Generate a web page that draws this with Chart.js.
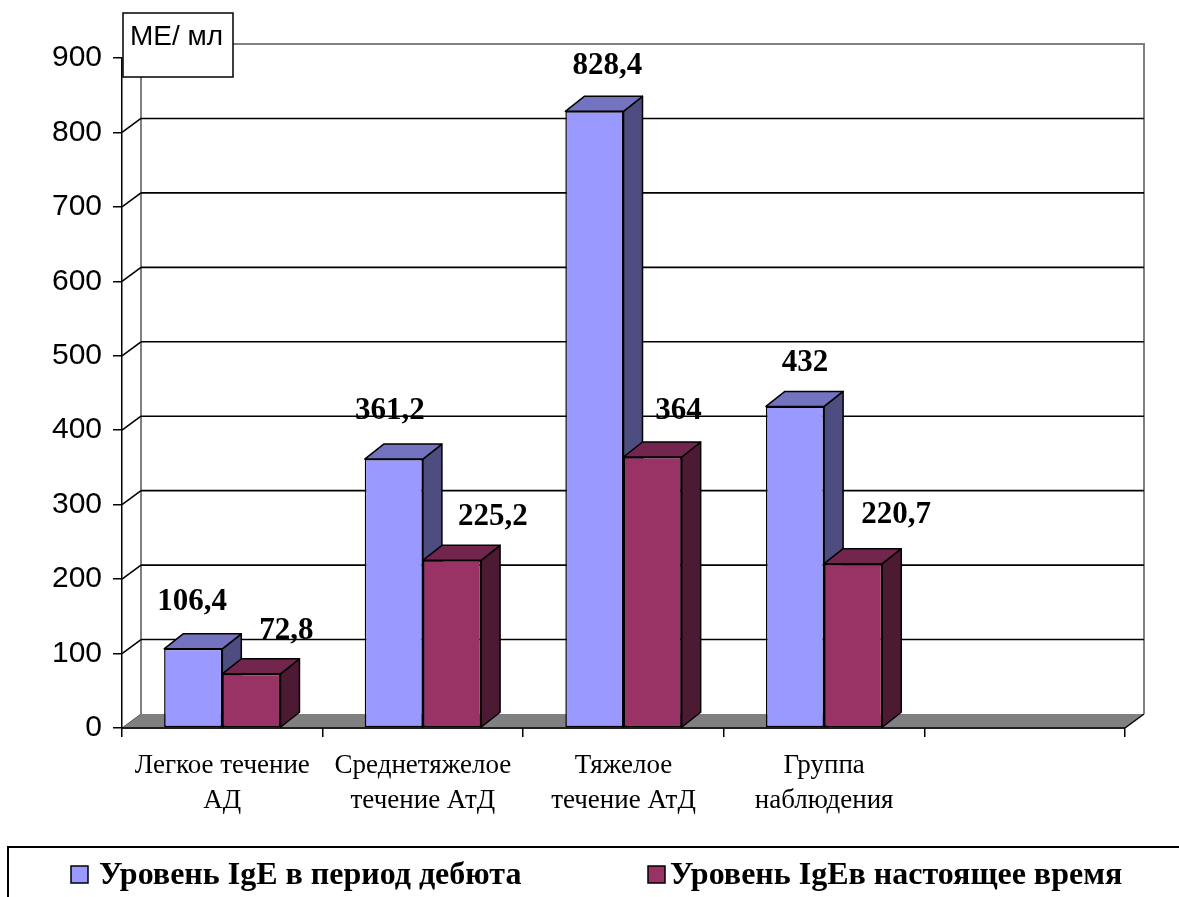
<!DOCTYPE html>
<html>
<head>
<meta charset="utf-8">
<script src="https://cdn.jsdelivr.net/npm/chart.js@4.4.1/dist/chart.umd.min.js"></script>
<style>
  html, body { margin: 0; padding: 0; background: #fff; }
  #wrap { width: 1179px; height: 897px; position: relative; }
</style>
</head>
<body>
<div id="wrap"><canvas id="c" width="1179" height="897"></canvas></div>
<script>
// ---- data ----
const categories = [
  ['Легкое течение', 'АД'],
  ['Среднетяжелое', 'течение АтД'],
  ['Тяжелое', 'течение АтД'],
  ['Группа', 'наблюдения'],
  ''
];
const debutValues   = [106.4, 361.2, 828.4, 432, null];
const currentValues = [72.8, 225.2, 364, 220.7, null];
const seriesNames   = ['Уровень IgE в период дебюта', 'Уровень IgEв настоящее время'];
const yTickValues   = [0, 100, 200, 300, 400, 500, 600, 700, 800, 900];
const unitLabel     = 'МЕ/ мл';

// ---- look ----
const FRONT = ['#9999FF', '#993366'];
const TOP   = ['#7373C0', '#73264D'];
const SIDE  = ['#4D4D80', '#4D1A33'];
const WALL  = { dx: 19, dy: -14 };   // depth of the back wall
const BOX   = { dx: 19, dy: -15 };   // depth of each column
// value label placement relative to the column's front face (x shift, baseline shift)
const labelShift = [
  [[-1, -39], [-4, -40], [13, -37], [10, -35]],
  [[35, -35], [41, -35], [26, -38], [43, -41]]
];

const fmt = v => String(v).replace('.', ',');

const scene3d = {
  id: 'scene3d',
  beforeDatasetsDraw(chart) {
    const { ctx, chartArea: a, scales: { y } } = chart;
    const dx = WALL.dx, dy = WALL.dy;
    ctx.save();
    // floor
    ctx.fillStyle = '#808080';
    ctx.beginPath();
    ctx.moveTo(a.left, a.bottom);
    ctx.lineTo(a.right, a.bottom);
    ctx.lineTo(a.right + dx, a.bottom + dy);
    ctx.lineTo(a.left + dx, a.bottom + dy);
    ctx.closePath();
    ctx.fill();
    ctx.strokeStyle = '#000';
    ctx.lineWidth = 1.5;
    ctx.beginPath();
    ctx.moveTo(a.right, a.bottom);
    ctx.lineTo(a.right + dx, a.bottom + dy);
    ctx.stroke();
    ctx.strokeStyle = '#555';
    ctx.lineWidth = 1;
    ctx.beginPath();
    ctx.moveTo(a.left, a.bottom);
    ctx.lineTo(a.left + dx, a.bottom + dy);
    ctx.stroke();

    // back wall frame
    ctx.strokeStyle = '#808080';
    ctx.lineWidth = 2;
    ctx.beginPath();
    ctx.moveTo(a.left + dx, a.bottom + dy);
    ctx.lineTo(a.left + dx, a.top + dy);
    ctx.lineTo(a.right + dx, a.top + dy);
    ctx.lineTo(a.right + dx, a.bottom + dy);
    ctx.stroke();

    // gridlines on the back wall and their traces on the side wall
    ctx.strokeStyle = '#000';
    ctx.lineWidth = 1.6;
    yTickValues.forEach(v => {
      if (v === yTickValues[0] || v === yTickValues[yTickValues.length - 1]) return;
      const py = y.getPixelForValue(v);
      ctx.beginPath();
      ctx.moveTo(a.left + dx, py + dy);
      ctx.lineTo(a.right + dx, py + dy);
      ctx.stroke();
      ctx.beginPath();
      ctx.moveTo(a.left, py);
      ctx.lineTo(a.left + dx, py + dy);
      ctx.stroke();
    });

    // column tops and sides, left to right
    const n = chart.data.labels.length;
    for (let i = 0; i < n; i++) {
      for (let d = 0; d < chart.data.datasets.length; d++) {
        if (chart.data.datasets[d].data[i] == null) continue;
        const el = chart.getDatasetMeta(d).data[i];
        const { x, y: top, base, width } = el.getProps(['x', 'y', 'base', 'width'], true);
        const l = x - width / 2, r = x + width / 2;
        ctx.lineWidth = 1.5;
        ctx.strokeStyle = '#000';
        ctx.lineJoin = 'round';
        // side
        ctx.fillStyle = SIDE[d];
        ctx.beginPath();
        ctx.moveTo(r, top);
        ctx.lineTo(r + BOX.dx, top + BOX.dy);
        ctx.lineTo(r + BOX.dx, base + BOX.dy);
        ctx.lineTo(r, base);
        ctx.closePath();
        ctx.fill();
        ctx.stroke();
        // top
        ctx.fillStyle = TOP[d];
        ctx.beginPath();
        ctx.moveTo(l, top);
        ctx.lineTo(l + BOX.dx, top + BOX.dy);
        ctx.lineTo(r + BOX.dx, top + BOX.dy);
        ctx.lineTo(r, top);
        ctx.closePath();
        ctx.fill();
        ctx.stroke();
      }
    }
    ctx.restore();
  },
  afterDatasetsDraw(chart) {
    const { ctx, chartArea: a } = chart;
    ctx.save();
    // front edge of the floor
    ctx.strokeStyle = '#000';
    ctx.lineWidth = 1.5;
    ctx.beginPath();
    ctx.moveTo(a.left, a.bottom);
    ctx.lineTo(a.right, a.bottom);
    ctx.stroke();
    // value labels
    ctx.fillStyle = '#000';
    ctx.font = 'bold 31px "Liberation Serif", "Times New Roman", serif';
    ctx.textAlign = 'center';
    ctx.textBaseline = 'alphabetic';
    chart.data.datasets.forEach((ds, d) => {
      chart.getDatasetMeta(d).data.forEach((el, i) => {
        const v = ds.data[i];
        if (v == null) return;
        const s = labelShift[d][i];
        ctx.fillText(fmt(v), el.x + s[0], el.y + s[1]);
      });
    });
    ctx.restore();
  },
  afterDraw(chart) {
    const { ctx } = chart;
    ctx.save();
    // unit box
    ctx.fillStyle = '#fff';
    ctx.strokeStyle = '#000';
    ctx.lineWidth = 1.5;
    ctx.fillRect(123, 13, 110, 64);
    ctx.strokeRect(123, 13, 110, 64);
    ctx.fillStyle = '#000';
    ctx.font = '28px "Liberation Sans", Arial, sans-serif';
    ctx.textAlign = 'left';
    ctx.textBaseline = 'alphabetic';
    ctx.fillText(unitLabel, 130, 45);

    // legend
    ctx.lineWidth = 2;
    ctx.strokeRect(8, 847, 1200, 100);
    const items = [{ sx: 71, tx: 99 }, { sx: 648, tx: 670 }];
    ctx.font = 'bold 32px "Liberation Serif", "Times New Roman", serif';
    chart.data.datasets.forEach((ds, d) => {
      const it = items[d];
      ctx.fillStyle = ds.backgroundColor;
      ctx.fillRect(it.sx, 866, 17, 17);
      ctx.lineWidth = 1.5;
      ctx.strokeStyle = '#000';
      ctx.strokeRect(it.sx, 866, 17, 17);
      ctx.fillStyle = '#000';
      ctx.fillText(ds.label, it.tx, 884);
    });
    ctx.restore();
  }
};

new Chart(document.getElementById('c'), {
  type: 'bar',
  data: {
    labels: categories,
    datasets: [
      { label: seriesNames[0], data: debutValues, backgroundColor: FRONT[0] },
      { label: seriesNames[1], data: currentValues, backgroundColor: FRONT[1] }
    ]
  },
  options: {
    responsive: false,
    devicePixelRatio: 1,
    animation: false,
    layout: { padding: { top: 58, right: 54, left: 0, bottom: 0 } },
    datasets: {
      bar: {
        categoryPercentage: 0.58,
        barPercentage: 1,
        borderColor: '#000',
        borderWidth: 1.5,
        borderSkipped: false
      }
    },
    plugins: { legend: { display: false }, tooltip: { enabled: false } },
    scales: {
      x: {
        ticks: {
          color: '#000',
          font: { family: '"Liberation Serif", "Times New Roman", serif', size: 27, lineHeight: 1.3 },
          padding: 11,
          maxRotation: 0,
          autoSkip: false
        },
        grid: { offset: true, drawOnChartArea: false, tickLength: 9, color: '#000', lineWidth: 1.5 },
        border: { display: true, color: '#000', width: 1.5 },
        afterFit(s) { s.height = 169; }
      },
      y: {
        min: 0,
        max: 900,
        afterBuildTicks(s) { s.ticks = yTickValues.map(v => ({ value: v })); },
        ticks: {
          color: '#000',
          font: { family: '"Liberation Sans", Arial, sans-serif', size: 30 },
          padding: 11
        },
        grid: { drawOnChartArea: false, tickLength: 9, color: '#000', lineWidth: 1.5 },
        border: { display: true, color: '#000', width: 1.5 },
        afterFit(s) { s.width = 122; }
      }
    }
  },
  plugins: [scene3d]
});
</script>
</body>
</html>
